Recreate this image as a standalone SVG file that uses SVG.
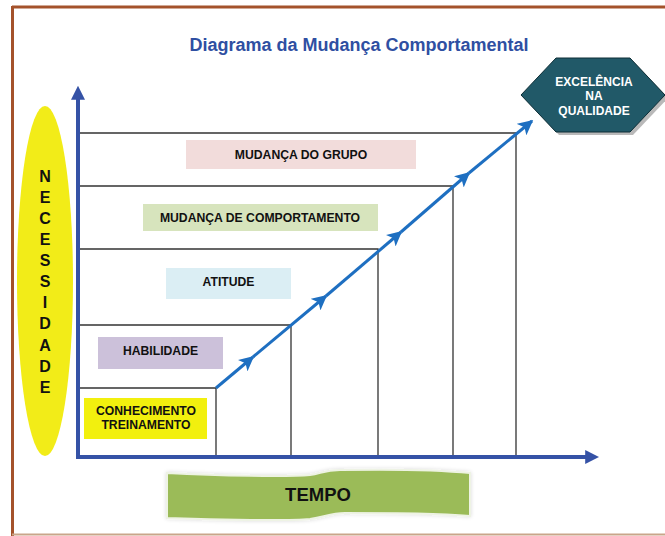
<svg xmlns="http://www.w3.org/2000/svg" width="665" height="536" viewBox="0 0 665 536">
<defs>
<style>
.lbl{font-family:"Liberation Sans",Arial,sans-serif;font-weight:bold;font-size:12.2px;fill:#111;text-anchor:middle}
.grid{stroke:#333;stroke-width:1.3;fill:none}
.axis{stroke:#3552A6;stroke-width:4;fill:none}
.diag{stroke:#1E6FC1;stroke-width:3;fill:none}
.hx{font-family:"Liberation Sans",Arial,sans-serif;font-weight:bold;font-size:12px;fill:#fff;text-anchor:middle}
.nec{font-family:"Liberation Sans",Arial,sans-serif;font-weight:bold;font-size:16px;fill:#111;text-anchor:middle}
</style>
<marker id="ax" viewBox="0 0 10 10" refX="2" refY="5" markerWidth="3.5" markerHeight="3.5" orient="auto" markerUnits="strokeWidth">
<path d="M0,0 L10,5 L0,10 Z" fill="#3552A6"/>
</marker>
<marker id="dg" viewBox="0 0 10 10" refX="9" refY="5" markerWidth="5" markerHeight="5" orient="auto" markerUnits="strokeWidth">
<path d="M0,0 L10,5 L0,10 L2.5,5 Z" fill="#1E6FC1"/>
</marker>
<filter id="glow" x="-10%" y="-30%" width="120%" height="160%">
<feGaussianBlur in="SourceAlpha" stdDeviation="2"/>
<feComponentTransfer><feFuncA type="linear" slope="0.15"/></feComponentTransfer>
<feMerge><feMergeNode/><feMergeNode in="SourceGraphic"/></feMerge>
</filter>
</defs>
<rect width="665" height="536" fill="#fff"/>
<g id="frame">
<line x1="12" y1="7" x2="665" y2="7" stroke="#A4522B" stroke-width="3"/>
<line x1="12.5" y1="6" x2="12.5" y2="536" stroke="#A4522B" stroke-width="3"/>
<line x1="12" y1="534.5" x2="665" y2="534.5" stroke="#C9A58A" stroke-width="2"/>
</g>
<text x="359" y="51" font-family="Liberation Sans, Arial, sans-serif" font-weight="bold" font-size="18" fill="#2F4FA2" text-anchor="middle">Diagrama da Mudança Comportamental</text>

<g id="necessidade">
<ellipse cx="45" cy="281" rx="28" ry="175" fill="#F2EC18"/>
<text class="nec" x="45" y="182">N</text>
<text class="nec" x="45" y="203">E</text>
<text class="nec" x="45" y="224">C</text>
<text class="nec" x="45" y="245">E</text>
<text class="nec" x="45" y="266">S</text>
<text class="nec" x="45" y="287">S</text>
<text class="nec" x="45" y="308">I</text>
<text class="nec" x="45" y="329">D</text>
<text class="nec" x="45" y="351">A</text>
<text class="nec" x="45" y="372">D</text>
<text class="nec" x="45" y="393">E</text>
</g>

<g id="grid">
<path class="grid" d="M80,133 H516 V456"/>
<path class="grid" d="M80,186 H453 V456"/>
<path class="grid" d="M80,249 H378 V456"/>
<path class="grid" d="M80,325 H291 V456"/>
<path class="grid" d="M80,388 H216 V456"/>
</g>

<g id="boxes">
<g id="grupo"><rect x="186" y="140" width="230" height="29" fill="#F2DCDB"/><text class="lbl" x="301" y="158.5">MUDANÇA DO GRUPO</text></g>
<g id="comportamento"><rect x="143" y="204" width="235" height="27" fill="#D7E4BD"/><text class="lbl" x="260" y="221.5">MUDANÇA DE COMPORTAMENTO</text></g>
<g id="atitude"><rect x="166" y="268" width="125" height="31" fill="#DBEEF4"/><text class="lbl" x="228.5" y="285.5">ATITUDE</text></g>
<g id="habilidade"><rect x="98" y="337" width="125" height="32" fill="#CCC1DA"/><text class="lbl" x="160.5" y="355">HABILIDADE</text></g>
<g id="conhecimento"><rect x="84" y="398" width="123" height="41" fill="#F2F00E"/><text class="lbl" x="146" y="415">CONHECIMENTO</text><text class="lbl" x="146" y="429">TREINAMENTO</text></g>
</g>

<g id="connectors">
<line class="axis" x1="78" y1="457" x2="78" y2="97" marker-end="url(#ax)"/>
<line class="axis" x1="76" y1="457" x2="588" y2="457" marker-end="url(#ax)"/>
<line class="diag" x1="216" y1="388" x2="253" y2="357" marker-end="url(#dg)"/>
<line class="diag" x1="253" y1="357" x2="326" y2="296" marker-end="url(#dg)"/>
<line class="diag" x1="326" y1="296" x2="401" y2="232" marker-end="url(#dg)"/>
<line class="diag" x1="401" y1="232" x2="469" y2="173" marker-end="url(#dg)"/>
<line class="diag" x1="469" y1="173" x2="532" y2="121" marker-end="url(#dg)"/>
</g>

<g id="excelencia">
<polygon points="524,98 559,61 633,61 668,98 633,135 559,135" fill="#8a8a8a" opacity="0.6"/>
<polygon points="521,95 556,58 630,58 665,95 630,132 556,132" fill="#215968" stroke="#0E2E36" stroke-width="1"/>
<text class="hx" x="594" y="86">EXCELÊNCIA</text>
<text class="hx" x="594" y="100">NA</text>
<text class="hx" x="594" y="115">QUALIDADE</text>
</g>

<g id="tempo">
<path filter="url(#glow)" d="M167,473 C220,476 290,477 310,475 C322,473 325,470 340,470 C400,469 440,470 470,473 L470,516 C440,513 400,513 345,513 C330,513 325,517 310,519 C290,521 220,520 167,518 Z" fill="#9BBB59" stroke="#EEF3E4" stroke-width="2"/>
<text x="318" y="500.5" font-family="Liberation Sans, Arial, sans-serif" font-weight="bold" font-size="18.5" fill="#111" text-anchor="middle">TEMPO</text>
</g>
</svg>
